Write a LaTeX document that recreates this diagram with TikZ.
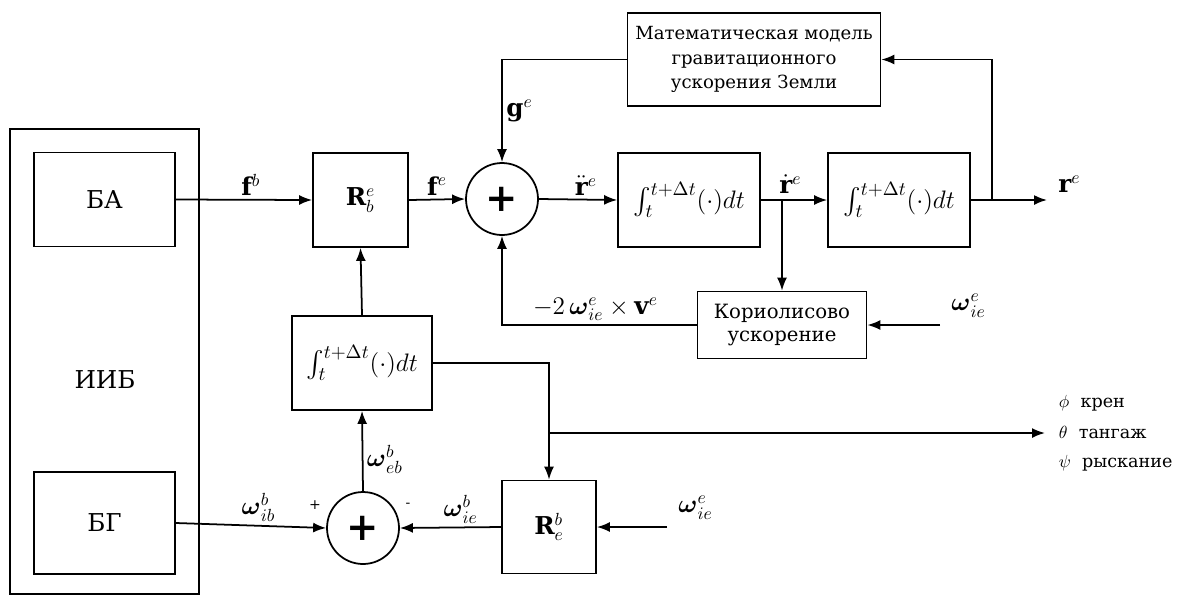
\documentclass[tikz,border=0pt]{standalone}
\usepackage{amsmath,amssymb}
\usepackage{fontspec}
\setmainfont{DejaVu Serif}
\usepackage{tikz}
\usetikzlibrary{arrows.meta,positioning,calc}

\newcommand{\intdt}{$\int_t^{t+\Delta t}(\cdot)dt$}

\begin{document}
\begin{tikzpicture}[x=0.02cm,y=-0.02cm,line width=1pt,
  every node/.style={font=\fontsize{12}{14}\selectfont},
  blk/.style={draw,rectangle,inner sep=0pt,align=center},
  intblk/.style={blk,minimum height=1.88cm,font=\fontsize{15}{17}\selectfont},
  sumc/.style={draw,circle,minimum size=1.44cm,inner sep=0pt,font=\fontsize{22}{22}\selectfont\bfseries},
  arr/.style={-{Latex[length=2.6mm,width=2mm]}},
  lbl/.style={inner sep=2pt,font=\fontsize{14}{16}\selectfont},
  outlbl/.style={anchor=west,inner sep=0pt,font=\fontsize{10}{12}\selectfont}]
  \useasboundingbox (0,0) rectangle (1199,596);

  % ИИБ
  \node[blk,minimum width=3.78cm,minimum height=9.3cm] (iib) at (104.5,361.5) {};
  \node[font=\fontsize{14}{16}\selectfont] (iibname) at (105,380) {ИИБ};
  \node[blk,minimum width=2.82cm,minimum height=1.88cm,font=\fontsize{14}{16}\selectfont] (ba) at (104.5,199.5) {БА};
  \node[blk,minimum width=2.82cm,minimum height=2.04cm,font=\fontsize{14}{16}\selectfont] (bg) at (104.5,523) {БГ};

  % top chain
  \node[blk,minimum width=1.9cm,minimum height=1.88cm,font=\fontsize{14}{16}\selectfont] (rbe) at (360.5,200) {$\mathbf{R}_b^e$};
  \node[sumc] (sum1) at (502,199) {+};
  \node[intblk,minimum width=2.84cm] (int1) at (689,200) {\intdt};
  \node[intblk,minimum width=2.84cm] (int2) at (899,200) {\intdt};
  \node[blk,minimum width=5.06cm,minimum height=1.86cm,font=\fontsize{10.3}{14}\selectfont] (grav) at (754,59.5)
    {Математическая модель\\гравитационного\\ускорения Земли};
  \node[blk,minimum width=3.38cm,minimum height=1.34cm,font=\fontsize{11.2}{13}\selectfont] (cor) at (782,325)
    {Кориолисово\\ускорение};

  % attitude chain
  \node[intblk,minimum width=2.8cm] (int3) at (362,363) {\intdt};
  \node[sumc] (sum2) at (363,528) {+};
  \node[blk,minimum width=1.88cm,minimum height=1.86cm,font=\fontsize{14}{16}\selectfont] (reb) at (549,527) {$\mathbf{R}_e^b$};

  \coordinate (vbr) at (782,200);
  \coordinate (rbr) at (992,200);
  \coordinate (rout) at (1047,200);
  \coordinate (corin) at (940,325);
  \coordinate (rebin) at (667,527);
  \coordinate (abr) at (549,433);
  \coordinate (attout) at (1045,433);

  \draw[arr] (ba.east) -- node[lbl,above,pos=0.55] {$\mathbf{f}^b$} (rbe.west);
  \draw[arr] (rbe.east) -- node[lbl,above] {$\mathbf{f}^e$} (sum1.west);
  \draw[arr] (sum1.east) -- node[lbl,above,pos=0.6] {$\ddot{\mathbf{r}}^e$} (int1.west);
  \draw[arr] (int1.east) -- (int2.west);
  \node[lbl,above right=1pt and -4pt of vbr] (vlbl) {$\dot{\mathbf{r}}^e$};
  \draw[arr] (vbr) -- (cor.north);
  \draw[arr] (int2.east) -- (rout) node[lbl,right,xshift=4pt,yshift=9pt] {$\mathbf{r}^e$};
  \draw[arr] (rbr) |- (grav.east);
  \draw[arr] (grav.west) -| node[lbl,right,pos=0.75] {$\mathbf{g}^e$} (sum1.north);
  \draw[arr] (cor.west) -| node[lbl,above,pos=0.26] {$-2\,\boldsymbol{\omega}_{ie}^e\times\mathbf{v}^e$} (sum1.south);
  \draw[arr] (corin) node[lbl,above right,xshift=4pt,yshift=2pt] {$\boldsymbol{\omega}_{ie}^e$} -- (cor.east);

  \draw[arr] (bg.east) -- node[lbl,above,pos=0.55] {$\boldsymbol{\omega}_{ib}^b$} (sum2.west);
  \draw[arr] (reb.west) -- node[lbl,above,pos=0.4] {$\boldsymbol{\omega}_{ie}^b$} (sum2.east);
  \draw[arr] (sum2.north) -- node[lbl,right,pos=0.4] {$\boldsymbol{\omega}_{eb}^b$} (int3.south);
  \draw[arr] (int3.north) -- (rbe.south);
  \draw[arr] (int3.east) -| (reb.north);
  \draw[arr] (abr) -- (attout);
  \draw[arr] (rebin) node[lbl,above right,xshift=4pt,yshift=2pt] {$\boldsymbol{\omega}_{ie}^e$} -- (reb.east);
  \node[font=\fontsize{8}{8}\selectfont] (plus) at (315,505) {+};
  \node[font=\fontsize{8}{8}\selectfont] (minus) at (408,505) {-};

  % outputs
  \node[outlbl] (roll) at (1058,403) {$\phi$\ \ крен};
  \node[outlbl] (pitch) at (1058,433) {$\theta$\ \ тангаж};
  \node[outlbl] (yaw) at (1058,463) {$\psi$\ \ рыскание};
\end{tikzpicture}
\end{document}
